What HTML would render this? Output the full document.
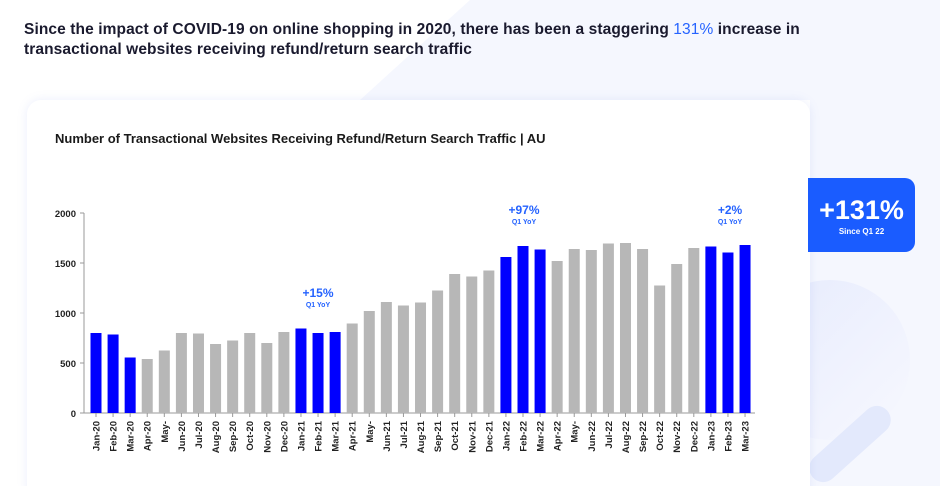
<!DOCTYPE html>
<html><head><style>
html,body{margin:0;width:940px;height:486px;overflow:hidden;background:#fff;font-family:"Liberation Sans",sans-serif;position:relative}
.h{position:absolute;left:24px;top:20px;font-size:15.5px;font-weight:bold;color:#1a1a2e;line-height:20px;letter-spacing:0.1px}
.card{position:absolute;left:27px;top:100px;width:783px;height:400px;background:#fff;border-radius:14px;box-shadow:0 0 10px rgba(120,140,230,0.15)}
.badge{position:absolute;left:808px;top:178px;width:107px;height:74px;background:#1a5cff;border-radius:0 10px 10px 0;color:#fff;text-align:center}
</style></head><body>
<svg width="940" height="486" style="position:absolute;left:0;top:0">
<defs><linearGradient id="g" x1="0" y1="0" x2="1" y2="1"><stop offset="0" stop-color="#e6ebfd"/><stop offset="1" stop-color="#f7f8fe"/></linearGradient></defs>
<polygon points="360,100 470,0 940,0 940,486 810,486 810,100" fill="#f5f7fe"/>
<circle cx="830" cy="360" r="80" fill="url(#g)"/>
<rect x="800" y="430" width="100" height="28" rx="14" fill="#e3e9fc" transform="rotate(-42 850 444)"/>
</svg>
<div class="h">Since the impact of COVID-19 on online shopping in 2020, there has been a staggering <span style="color:#2563ff;font-weight:normal">131%</span> increase in<br>transactional websites receiving refund/return search traffic</div>
<div class="card"></div>
<div class="badge"><div style="font-size:27px;font-weight:bold;margin-top:17px;line-height:30px">+131%</div><div style="font-size:8px;font-weight:bold;margin-top:2px">Since Q1 22</div></div>
<svg width="940" height="486" style="position:absolute;left:0;top:0" font-family="Liberation Sans, sans-serif">
<text x="55" y="143" font-size="13" font-weight="bold" fill="#1a1a1a">Number of Transactional Websites Receiving Refund/Return Search Traffic | AU</text>
<g font-size="9.5" font-weight="bold" fill="#222" text-anchor="end">
<text x="76" y="417">0</text><text x="76" y="367">500</text><text x="76" y="317">1000</text><text x="76" y="267">1500</text><text x="76" y="217">2000</text>
</g>
<g stroke="#999" stroke-width="1"><line x1="84" y1="213" x2="84" y2="413"/><line x1="84" y1="413" x2="755" y2="413"/>
<line x1="80" y1="213" x2="84" y2="213"/><line x1="80" y1="263" x2="84" y2="263"/><line x1="80" y1="313" x2="84" y2="313"/><line x1="80" y1="363" x2="84" y2="363"/><line x1="80" y1="413" x2="84" y2="413"/></g>
<g id="bars"></g>
<g font-weight="bold" fill="#2563ff" text-anchor="middle">
<text x="318" y="297" font-size="12">+15%</text><text x="318" y="307" font-size="7">Q1 YoY</text>
<text x="524" y="214" font-size="12">+97%</text><text x="524" y="224" font-size="7">Q1 YoY</text>
<text x="730" y="214" font-size="12">+2%</text><text x="730" y="224" font-size="7">Q1 YoY</text>
</g>
</svg>
<script>
var v=[800,785,555,540,625,800,795,690,725,800,700,810,845,800,810,895,1020,1110,1075,1105,1225,1390,1365,1425,1560,1670,1635,1520,1640,1630,1695,1700,1640,1275,1490,1650,1665,1605,1680];
var l=["Jan-20","Feb-20","Mar-20","Apr-20","May-","Jun-20","Jul-20","Aug-20","Sep-20","Oct-20","Nov-20","Dec-20","Jan-21","Feb-21","Mar-21","Apr-21","May-","Jun-21","Jul-21","Aug-21","Sep-21","Oct-21","Nov-21","Dec-21","Jan-22","Feb-22","Mar-22","Apr-22","May-","Jun-22","Jul-22","Aug-22","Sep-22","Oct-22","Nov-22","Dec-22","Jan-23","Feb-23","Mar-23"];
var s="",b=[0,1,2,12,13,14,24,25,26,36,37,38];
for(var i=0;i<39;i++){var x=96+i*17.08,h=v[i]/10;
s+='<rect x="'+(x-5.5)+'" y="'+(413-h)+'" width="11" height="'+h+'" fill="'+(b.indexOf(i)>=0?'#0000ff':'#b7b7b7')+'"/>';
s+='<line x1="'+x+'" y1="413" x2="'+x+'" y2="417" stroke="#999"/>';
s+='<text transform="translate('+(x+3.5)+',421) rotate(-90)" text-anchor="end" font-size="9.5" font-weight="bold" fill="#222">'+l[i]+'</text>';}
document.getElementById("bars").innerHTML=s;
</script>
</body></html>
